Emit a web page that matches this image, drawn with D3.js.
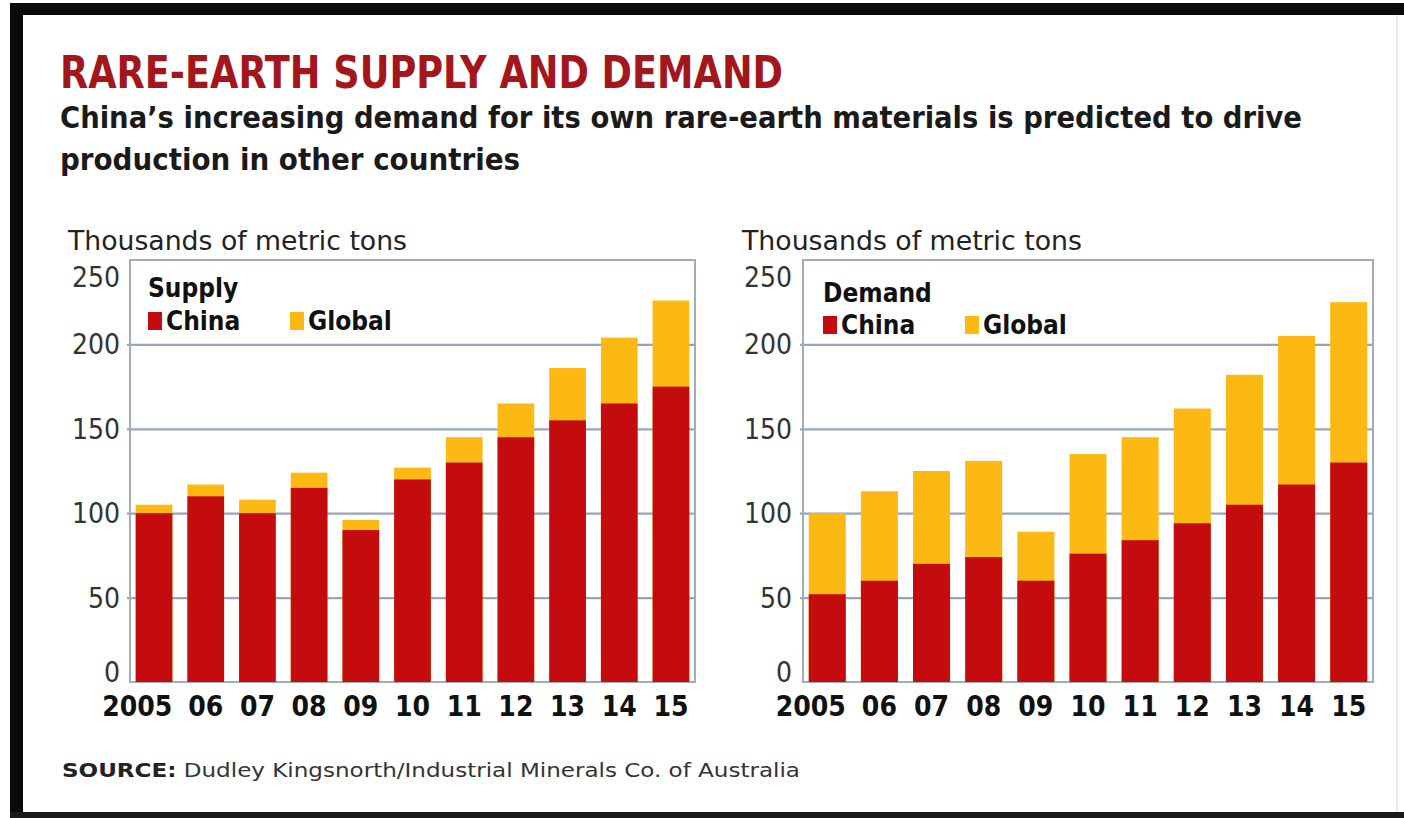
<!DOCTYPE html>
<html>
<head>
<meta charset="utf-8">
<script src="https://cdn.jsdelivr.net/npm/d3@7"></script>
<style>
  html, body { margin: 0; padding: 0; background: #fff; }
  svg { display: block; }
  text { font-family: "Liberation Sans Narrow", "DejaVu Sans Condensed", "Roboto", sans-serif; }
</style>
</head>
<body>
<svg id="chart" width="1404" height="818"></svg>
<script>
// ---- data ----
const years = ["2005", "06", "07", "08", "09", "10", "11", "12", "13", "14", "15"];
const supplyChina  = [100, 110, 100, 115, 90, 120, 130, 145, 155, 165, 175];
const supplyGlobal = [105, 117, 108, 124, 96, 127, 145, 165, 186, 204, 226];
const demandChina  = [52, 60, 70, 74, 60, 76, 84, 94, 105, 117, 130];
const demandGlobal = [100, 113, 125, 131, 89, 135, 145, 162, 182, 205, 225];
const yTicks = [0, 50, 100, 150, 200, 250];
const seriesNames = ["China", "Global"];

const titleText = "RARE-EARTH SUPPLY AND DEMAND";
const subLine1 = "China\u2019s increasing demand for its own rare-earth materials is predicted to drive";
const subLine2 = "production in other countries";
const unitText = "Thousands of metric tons";
const sourceLabel = "SOURCE:";
const sourceText = " Dudley Kingsnorth/Industrial Minerals Co. of Australia";

// ---- style ----
const RED = "#c40b0d";
const YELLOW = "#fdb913";
const GRID = "#93a6ba";
const colors = { China: RED, Global: YELLOW };

const svg = d3.select("#chart");

// frame
svg.append("rect").attr("x", 0).attr("y", 0).attr("width", 1404).attr("height", 818).attr("fill", "#fff");
svg.append("rect").attr("x", 10).attr("y", 3).attr("width", 1394).attr("height", 12).attr("fill", "#0a0a0a");
svg.append("rect").attr("x", 10).attr("y", 3).attr("width", 13).attr("height", 815).attr("fill", "#0a0a0a");
svg.append("rect").attr("x", 10).attr("y", 812).attr("width", 1394).attr("height", 6).attr("fill", "#1a1a1a");
svg.append("line").attr("x1", 1397).attr("x2", 1397).attr("y1", 15).attr("y2", 812).attr("stroke", "#e4e4e4").attr("stroke-width", 1.5);

// titles
svg.append("text").attr("x", 60).attr("y", 88)
  .attr("textLength", 723).attr("lengthAdjust", "spacingAndGlyphs")
  .attr("font-size", 44).attr("font-weight", "bold").attr("fill", "#a3161b").text(titleText);
svg.append("text").attr("x", 60).attr("y", 128)
  .attr("textLength", 1242).attr("lengthAdjust", "spacingAndGlyphs")
  .attr("font-size", 31).attr("font-weight", "bold").attr("fill", "#1a1a1a").text(subLine1);
svg.append("text").attr("x", 60).attr("y", 170)
  .attr("textLength", 460).attr("lengthAdjust", "spacingAndGlyphs")
  .attr("font-size", 31).attr("font-weight", "bold").attr("fill", "#1a1a1a").text(subLine2);

// source
const src = svg.append("text").attr("x", 62).attr("y", 777).attr("font-size", 19).attr("fill", "#333")
  .attr("textLength", 738).attr("lengthAdjust", "spacingAndGlyphs");
src.append("tspan").attr("font-weight", "bold").attr("fill", "#222").text(sourceLabel);
src.append("tspan").text(sourceText);

// ---- panels ----
const panels = [
  { name: "Supply", china: supplyChina, global: supplyGlobal, x0: 130, x1: 695, unitX: 68, unitW: 339,
    labelRight: 120, legendX: 148, legendY: 297, rowY: 330 },
  { name: "Demand", china: demandChina, global: demandGlobal, x0: 803, x1: 1373, unitX: 742, unitW: 340,
    labelRight: 792, legendX: 823, legendY: 302, rowY: 334 }
];

const yTop = 260, yBottom = 682;

panels.forEach(p => {
  const g = svg.append("g");
  const x = d3.scaleBand().domain(years).range([p.x0, p.x1]).paddingInner(0.29).paddingOuter(0.11);
  const y = d3.scaleLinear().domain([0, 250]).range([yBottom, yTop]);

  // unit label
  g.append("text").attr("x", p.unitX).attr("y", 250)
    .attr("textLength", p.unitW).attr("lengthAdjust", "spacingAndGlyphs")
    .attr("font-size", 26).attr("fill", "#222").text(unitText);

  // gridlines
  const grid = g.append("g").attr("transform", `translate(${p.x0},0)`)
    .call(d3.axisLeft(y).tickValues(yTicks.filter(t => t > 0 && t < 250)).tickSize(-(p.x1 - p.x0) - 3).tickFormat(""));
  grid.select(".domain").remove();
  grid.selectAll(".tick line").attr("stroke", GRID).attr("stroke-width", 2.2).attr("transform", "translate(-3,0)");

  // box
  g.append("rect").attr("x", p.x0).attr("y", y(250)).attr("width", p.x1 - p.x0).attr("height", y(0) - y(250))
    .attr("fill", "none").attr("stroke", "#a3adb8").attr("stroke-width", 2);

  // bars: global (total) then china on top
  g.selectAll("rect.global").data(years).join("rect").attr("class", "global")
    .attr("x", d => x(d)).attr("width", x.bandwidth())
    .attr("y", (d, i) => y(p.global[i])).attr("height", (d, i) => y(0) - y(p.global[i]))
    .attr("fill", YELLOW);
  g.selectAll("rect.china").data(years).join("rect").attr("class", "china")
    .attr("x", d => x(d)).attr("width", x.bandwidth())
    .attr("y", (d, i) => y(p.china[i])).attr("height", (d, i) => y(0) - y(p.china[i]))
    .attr("fill", RED);

  // y tick labels
  g.selectAll("text.ytick").data(yTicks).join("text").attr("class", "ytick")
    .attr("x", p.labelRight).attr("y", d => y(d))
    .attr("dy", d => d === 250 ? "0.95em" : d === 0 ? "0" : "0.36em")
    .attr("text-anchor", "end").attr("font-size", 28).attr("fill", "#333")
    .text(d => d);

  // x labels
  const xa = g.append("g").attr("transform", `translate(0,${yBottom})`)
    .call(d3.axisBottom(x).tickSize(0).tickPadding(0));
  xa.select(".domain").remove();
  xa.selectAll(".tick text")
    .attr("y", 34).attr("dy", 0)
    .attr("font-size", 28).attr("font-weight", "bold").attr("fill", "#111")
    .attr("font-family", "\"Liberation Sans Narrow\", \"DejaVu Sans Condensed\", Roboto, sans-serif")
    .attr("text-anchor", (d, i) => i === 0 ? "end" : "middle")
    .attr("x", (d, i) => i === 0 ? x.bandwidth() / 2 : 0);

  // legend
  g.append("text").attr("x", p.legendX).attr("y", p.legendY)
    .attr("font-size", 26).attr("font-weight", "bold").attr("fill", "#111").text(p.name);
  const leg = g.selectAll("g.leg").data(seriesNames).join("g").attr("class", "leg")
    .attr("transform", (d, i) => `translate(${p.legendX + i * 142},${p.rowY})`);
  leg.append("rect").attr("x", 0).attr("y", -18).attr("width", 14).attr("height", 18).attr("fill", d => colors[d]);
  leg.append("text").attr("x", 18).attr("y", 0).attr("font-size", 26).attr("font-weight", "bold")
    .attr("fill", "#111").text(d => d);
});
</script>
</body>
</html>
